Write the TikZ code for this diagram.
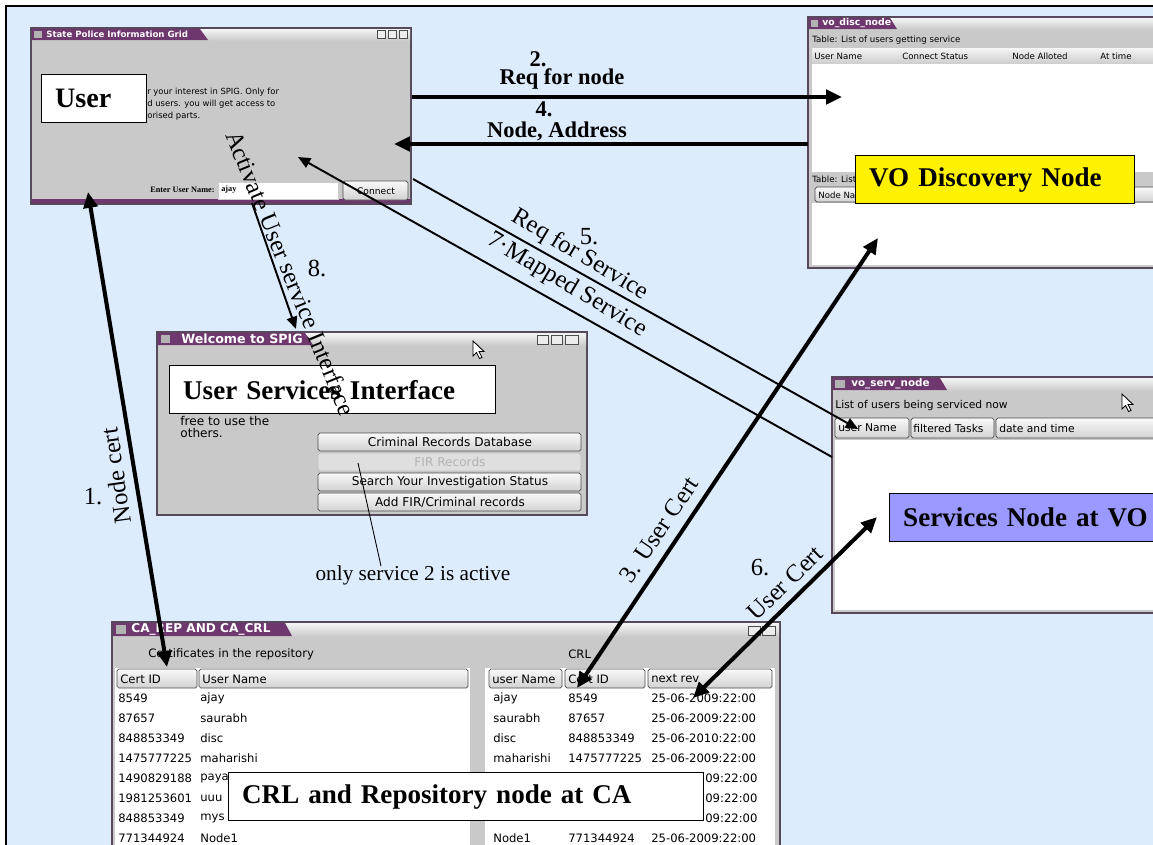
\documentclass[tikz,border=0pt]{standalone}
\usepackage{fontspec}
\setmainfont{Liberation Serif}
\newfontfamily\guifont{DejaVu Sans}
\usetikzlibrary{arrows.meta}

\definecolor{skyback}{RGB}{221,236,252}
\definecolor{wingray}{RGB}{201,201,201}
\definecolor{winedge}{RGB}{88,72,92}
\definecolor{tabpurple}{RGB}{110,56,110}
\definecolor{servblue}{RGB}{153,153,255}

\newcommand{\gsize}[1]{\guifont\fontsize{#1}{#1}\selectfont}
\newcommand{\ssize}[1]{\fontsize{#1}{#1}\selectfont}

\begin{document}
\begin{tikzpicture}[x=0.02cm, y=-0.02cm,
  winframe/.style={draw=winedge, fill=wingray, line width=1.4pt},
  titlebar/.style={top color=gray!8, bottom color=gray!40},
  wintab/.style={fill=tabpurple},
  tabtext/.style={anchor=west, inner sep=0pt, text=white, font=\gsize{#1}\bfseries},
  gtext/.style={anchor=west, inner sep=0pt, font=\gsize{#1}},
  guibtn/.style={draw=gray!60!black, top color=gray!5, bottom color=gray!35, rounded corners=1pt, line width=0.4pt},
  winbtn/.style={draw=gray!60!black, fill=gray!15, line width=0.4pt},
  lblbox/.style={draw=black, line width=0.8pt, anchor=north west, align=left, inner xsep=0.27cm, inner ysep=0pt, minimum height=0.96cm, font=\bfseries\ssize{15.4}},
  bigarrow/.style={line width=2.3pt, -{Triangle[length=9pt, width=8pt]}},
  bothbig/.style={line width=2.3pt, {Triangle[length=9pt, width=8pt]}-{Triangle[length=9pt, width=8pt]}},
  thinarrow/.style={line width=1.1pt, -{Triangle[length=7pt, width=6pt]}},
  boldlbl/.style={inner sep=0pt, font=\bfseries\ssize{12.8}},
  flowlbl/.style={inner sep=0pt, font=\ssize{14}},
]
\useasboundingbox (0,0) rectangle (1153,845);

% background and frame
\fill[white] (0,0) rectangle (1153,845);
\fill[skyback] (6,6) rectangle (1153,845);
\draw[line width=1.2pt] (6,845) -- (6,6) -- (1153,6);

% State Police Information Grid (user window)
\draw[winframe] (31,28) rectangle (411,204);
\shade[titlebar] (32,29) rectangle (410,40);
\fill[wintab] (32,29) -- (200,29) -- (208,40) -- (32,40) -- cycle;
\fill[gray!60] (34,31) rectangle (42,38);
\node[tabtext=4.9] (usertitle) at (46,34.5) {State Police Information Grid};
\draw[winbtn] (377,30) rectangle (385,38);
\draw[winbtn] (388,30) rectangle (396,38);
\draw[winbtn] (399,30) rectangle (407,38);
\fill[tabpurple] (32,199) rectangle (410,203);
\node[gtext=4.8] (userline1) at (147,92) {r your interest in SPIG. Only for};
\node[gtext=4.8] (userline2) at (147,104) {d users. you will get access to};
\node[gtext=4.8] (userline3) at (147,116) {orised parts.};
\node[anchor=west, inner sep=0pt, font=\bfseries\ssize{4.7}] (entername) at (150,190) {Enter User Name:};
\draw[fill=white, draw=gray!40] (218,182) rectangle (338,199);
\node[anchor=west, inner sep=0pt, font=\bfseries\ssize{4.7}] (ajayfield) at (221,190) {ajay};
\draw[guibtn] (343,181) rectangle (408,200);
\node[inner sep=0pt, font=\gsize{5.2}] (connect) at (376,191) {Connect};

% vo_disc_node window
\draw[winframe] (808,17) rectangle (1165,268);
\shade[titlebar] (809,18) rectangle (1165,29);
\fill[wintab] (809,18) -- (890,18) -- (897,29) -- (809,29) -- cycle;
\fill[gray!60] (811,20) rectangle (818,27);
\node[tabtext=5.3] (disctitle) at (822,23.5) {vo\_disc\_node};
\node[gtext=4.9] (disctable) at (812,40) {Table: List of users getting service};
\shade[titlebar] (812,48) rectangle (1165,64);
\node[gtext=4.9] (dhuser) at (814,56) {User Name};
\node[gtext=4.9] (dhstatus) at (902,56) {Connect Status};
\node[gtext=4.9] (dhnode) at (1012,56) {Node Alloted};
\node[gtext=4.9] (dhtime) at (1100,56) {At time};
\fill[white] (812,64) rectangle (1165,172);
\node[gtext=4.9] (disctable2) at (812,179) {Table: List};
\draw[guibtn] (815,187) rectangle (1165,202);
\node[gtext=4.9] (dhnodename) at (818,195) {Node Na};
\fill[white] (812,203) rectangle (1165,265);

% Welcome to SPIG window
\draw[winframe] (157,332) rectangle (587,515);
\shade[titlebar] (158,333) rectangle (586,345);
\fill[wintab] (158,333) -- (305,333) -- (313,345) -- (158,345) -- cycle;
\fill[gray!60] (161,335) rectangle (170,343);
\node[tabtext=7.2] (welcometitle) at (181,339) {Welcome to SPIG};
\draw[winbtn] (537,335) rectangle (548,344);
\draw[winbtn] (551,335) rectangle (562,344);
\draw[winbtn] (565,335) rectangle (578,344);
\node[gtext=6.9] (freeuse1) at (180,421) {free to use the};
\node[gtext=6.9] (freeuse2) at (180,433) {others.};
\draw[guibtn] (318,433) rectangle (581,451);
\node[inner sep=0pt, font=\gsize{6.9}] (btncrim) at (450,442) {Criminal Records Database};
\draw[draw=gray!50, fill=gray!25, rounded corners=1pt] (318,453) rectangle (581,471);
\node[inner sep=0pt, text=gray!60, font=\gsize{6.9}] (btnfir) at (450,462) {FIR Records};
\draw[guibtn] (318,473) rectangle (581,491);
\node[inner sep=0pt, font=\gsize{6.9}] (btnsearch) at (450,482) {Search Your Investigation Status};
\draw[guibtn] (318,493) rectangle (581,511);
\node[inner sep=0pt, font=\gsize{6.9}] (btnadd) at (450,502) {Add FIR/Criminal records};
\draw[fill=white, line width=0.5pt] (473,341) -- (473,356) -- (476.5,352.5) -- (479.5,358.5) -- (482,357.5) -- (479,351.5) -- (484,351.5) -- cycle;

% vo_serv_node window
\draw[winframe] (832,377) rectangle (1165,613);
\shade[titlebar] (833,378) rectangle (1165,390);
\fill[wintab] (833,378) -- (940,378) -- (947,390) -- (833,390) -- cycle;
\fill[gray!60] (835,380) rectangle (845,388);
\node[tabtext=5.9] (servtitle) at (851,384) {vo\_serv\_node};
\node[gtext=6.1] (servlist) at (835,406) {List of users being serviced now};
\draw[guibtn] (835,418) rectangle (909,438);
\node[gtext=6.1] (shuser) at (838,428) {user Name};
\draw[guibtn] (911,418) rectangle (994,438);
\node[gtext=6.1] (shtasks) at (913,428) {filtered Tasks};
\draw[guibtn] (996,418) rectangle (1165,438);
\node[gtext=6.1] (shdate) at (999,428) {date and time};
\fill[white] (835,440) rectangle (1165,610);
\draw[fill=white, line width=0.5pt] (1122,394) -- (1122,409) -- (1125.5,405.5) -- (1128.5,411.5) -- (1131,410.5) -- (1128,404.5) -- (1133,404.5) -- cycle;

% CA_REP AND CA_CRL window
\draw[winframe] (112,622) rectangle (780,870);
\shade[titlebar] (113,623) rectangle (779,636);
\fill[wintab] (113,623) -- (285,623) -- (292,636) -- (113,636) -- cycle;
\fill[gray!60] (116,625) rectangle (126,634);
\node[tabtext=6.9] (catitle) at (131,629.5) {CA\_REP AND CA\_CRL};
\draw[winbtn] (748,626) rectangle (760,635);
\draw[winbtn] (762,626) rectangle (775,635);
\node[gtext=6.6] (repohead) at (148,654) {Certificates in the repository};
\node[gtext=6.6] (crlhead) at (568,654) {CRL};
\fill[white] (115,668) rectangle (470,860);
\fill[white] (485,668) rectangle (775,860);
\draw[guibtn] (117,669) rectangle (197,688);
\node[gtext=6.6] (hcert) at (120,679) {Cert ID};
\draw[guibtn] (199,669) rectangle (468,688);
\node[gtext=6.6] (huser) at (202,679) {User Name};
\draw[guibtn] (489,669) rectangle (562,688);
\node[gtext=6.6] (cuser) at (492,679) {user Name};
\draw[guibtn] (565,669) rectangle (645,688);
\node[gtext=6.6] (ccert) at (568,679) {Cert ID};
\draw[guibtn] (648,669) rectangle (772,688);
\node[gtext=6.6] (crev) at (651,679) {next rev};
% repository rows
\node[gtext=6.6] (lid1) at (118,698) {8549};       \node[gtext=6.6] (lnm1) at (200,698) {ajay};
\node[gtext=6.6] (lid2) at (118,718) {87657};      \node[gtext=6.6] (lnm2) at (200,718) {saurabh};
\node[gtext=6.6] (lid3) at (118,738) {848853349};  \node[gtext=6.6] (lnm3) at (200,738) {disc};
\node[gtext=6.6] (lid4) at (118,758) {1475777225}; \node[gtext=6.6] (lnm4) at (200,758) {maharishi};
\node[gtext=6.6] (lid5) at (118,778) {1490829188}; \node[gtext=6.6] (lnm5) at (200,778) {paya};
\node[gtext=6.6] (lid6) at (118,798) {1981253601}; \node[gtext=6.6] (lnm6) at (200,798) {uuu};
\node[gtext=6.6] (lid7) at (118,818) {848853349};  \node[gtext=6.6] (lnm7) at (200,818) {mys};
\node[gtext=6.6] (lid8) at (118,838) {771344924};  \node[gtext=6.6] (lnm8) at (200,838) {Node1};
% CRL rows
\node[gtext=6.6] (rnm1) at (493,698) {ajay};      \node[gtext=6.6] (rid1) at (568,698) {8549};       \node[gtext=6.6] (rrev1) at (651,698) {25-06-2009:22:00};
\node[gtext=6.6] (rnm2) at (493,718) {saurabh};   \node[gtext=6.6] (rid2) at (568,718) {87657};      \node[gtext=6.6] (rrev2) at (651,718) {25-06-2009:22:00};
\node[gtext=6.6] (rnm3) at (493,738) {disc};      \node[gtext=6.6] (rid3) at (568,738) {848853349};  \node[gtext=6.6] (rrev3) at (651,738) {25-06-2010:22:00};
\node[gtext=6.6] (rnm4) at (493,758) {maharishi}; \node[gtext=6.6] (rid4) at (568,758) {1475777225}; \node[gtext=6.6] (rrev4) at (651,758) {25-06-2009:22:00};
\node[gtext=6.6] (rrev5) at (705,778) {09:22:00};
\node[gtext=6.6] (rrev6) at (705,798) {09:22:00};
\node[gtext=6.6] (rrev7) at (705,818) {09:22:00};
\node[gtext=6.6] (rnm8) at (493,838) {Node1};     \node[gtext=6.6] (rid8) at (568,838) {771344924};  \node[gtext=6.6] (rrev8) at (651,838) {25-06-2009:22:00};

% name boxes on the windows
\node[lblbox, fill=white, text width=1.56cm, font=\bfseries\ssize{16}] (user) at (41,74) {User};
\node[lblbox, fill=yellow, text width=5.04cm] (vodisc) at (855,155) {VO Discovery Node};
\node[lblbox, fill=white, text width=5.98cm] (usi) at (169,365) {User Services Interface};
\node[lblbox, fill=servblue, text width=5.4cm] (servnode) at (889,493) {Services Node at VO};
\node[lblbox, fill=white, text width=8.96cm] (crlnode) at (228,772) {CRL and Repository node at CA};

% arrow ends
\coordinate (certU) at (88,192);
\coordinate (certC) at (167,667);
\coordinate (reqA) at (412,97);
\coordinate (reqB) at (842,97);
\coordinate (addrA) at (808,144);
\coordinate (addrB) at (394,144);
\coordinate (ucertD) at (878,238);
\coordinate (ucertC) at (577,688);
\coordinate (ucertS) at (877,517);
\coordinate (ucertR) at (693,698);
\coordinate (svcA) at (413,179);
\coordinate (svcB) at (858,429);
\coordinate (mapA) at (832,457);
\coordinate (mapB) at (298,157);
\coordinate (actA) at (252,203);
\coordinate (actB) at (296,329);
\coordinate (noteA) at (358,463);
\coordinate (noteB) at (381,566);

% connectors
\draw[bothbig] (certC) -- (certU);
\draw[bigarrow] (reqA) -- (reqB);
\draw[bigarrow] (addrA) -- (addrB);
\draw[bothbig] (ucertC) -- (ucertD);
\draw[bothbig] (ucertR) -- (ucertS);
\draw[thinarrow] (svcA) -- (svcB);
\draw[thinarrow] (mapA) -- (mapB);
\draw[thinarrow] (actA) -- (actB);
\draw[line width=0.5pt] (noteA) -- (noteB);

% connector labels
\node[flowlbl] (certnum) at (93,497) {1.};
\node[flowlbl, rotate=98] (certtxt) at (116,476) {Node cert};
\node[boldlbl] (reqnum) at (538,59) {2.};
\node[boldlbl] (reqtxt) at (562,79) {Req for node};
\node[boldlbl] (addrnum) at (544,109) {4.};
\node[boldlbl] (addrtxt) at (557,131) {Node, Address};
\node[flowlbl, rotate=56] (ucert3) at (659,530) {3. User Cert};
\node[flowlbl] (ucert6num) at (760,568) {6.};
\node[flowlbl, rotate=44] (ucert6) at (785,583) {User Cert};
\node[flowlbl] (svcnum) at (589,237) {5.};
\node[flowlbl, rotate=-31] (svctxt) at (580,255) {Req for Service};
\node[flowlbl, rotate=-31] (maptxt) at (567,285) {7·Mapped Service};
\node[flowlbl] (actnum) at (317,268) {8.};
\node[flowlbl, rotate=-67.7] (acttxt) at (291,273) {Activate User service Interface};
\node[inner sep=0pt, font=\ssize{12.1}] (note) at (413,575) {only service 2 is active};
\end{tikzpicture}
\end{document}
